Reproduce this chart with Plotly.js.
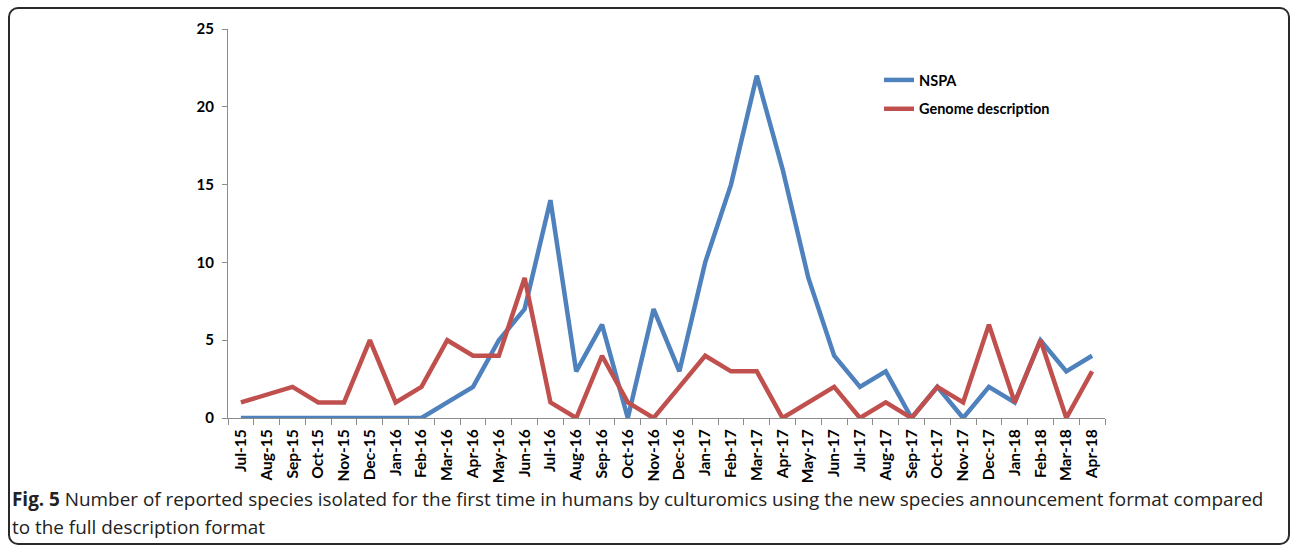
<!DOCTYPE html>
<html>
<head>
<meta charset="utf-8">
<script src="https://cdn.plot.ly/plotly-3.0.1.min.js"></script>
<style>
  html, body { margin:0; padding:0; background:#fff; }
  #wrap { position:relative; width:1290px; height:546px; overflow:hidden; }
  #frame { position:absolute; left:8px; top:7px; width:1278px; height:534px;
           border:2px solid #2a2a2a; border-radius:10px; }
  #chart { position:absolute; left:0; top:0; width:1290px; height:546px; }
</style>
</head>
<body>
<div id="wrap">
  <div id="frame"></div>
  <div id="chart"></div>
</div>
<script>
const months = ["Jul-15","Aug-15","Sep-15","Oct-15","Nov-15","Dec-15","Jan-16","Feb-16","Mar-16","Apr-16","May-16","Jun-16","Jul-16","Aug-16","Sep-16","Oct-16","Nov-16","Dec-16","Jan-17","Feb-17","Mar-17","Apr-17","May-17","Jun-17","Jul-17","Aug-17","Sep-17","Oct-17","Nov-17","Dec-17","Jan-18","Feb-18","Mar-18","Apr-18"];
const nspa = [0,0,0,0,0,0,0,0,1,2,5,7,14,3,6,0,7,3,10,15,22,16,9,4,2,3,0,2,0,2,1,5,3,4];
const genome = [1,null,2,1,1,5,1,2,5,4,4,9,1,0,4,1,0,2,4,3,3,0,1,2,0,1,0,2,1,6,1,5,0,3];
const seriesNames = ["NSPA","Genome description"];
const yTicks = [0,5,10,15,20,25];
const captionBold = "Fig. 5";
const captionLine1 = "Number of reported species isolated for the first time in humans by culturomics using the new species announcement format compared";
const captionLine2 = "to the full description format";

const W = 1290, H = 546;
const M = {l:228, r:185, t:29, b:128};
const pw = W - M.l - M.r, ph = H - M.t - M.b;
const px = x => (x - M.l) / pw;
const py = y => (H - M.b - y) / ph;

const traces = [
  {x: months, y: nspa, name: seriesNames[0], type:'scatter', mode:'lines',
   line:{color:'#4F81BD', width:4.5}, legendgroup:'a', connectgaps:true},
  {x: months, y: genome, name: seriesNames[1], type:'scatter', mode:'lines',
   line:{color:'#C0504D', width:4.5}, legendgroup:'b', connectgaps:true}
];

const layout = {
  width: W, height: H,
  margin: M,
  paper_bgcolor:'rgba(0,0,0,0)', plot_bgcolor:'rgba(0,0,0,0)',
  font:{family:'Lato, "Open Sans", sans-serif', color:'#000'},
  showlegend:true,
  legend:{x: px(879), y: py(64), xanchor:'left', yanchor:'top',
          font:{size:14.5, weight:'bold', family:'Lato, sans-serif', color:'#000'},
          tracegroupgap:7, bgcolor:'rgba(0,0,0,0)'},
  xaxis:{type:'category', range:[-0.5, months.length-0.5],
         tickangle:-90, tickfont:{size:15.5, weight:'bold', family:'Lato, sans-serif'},
         showline:true, linecolor:'#8c8c8c', linewidth:1,
         ticks:'outside', ticklen:6, tickcolor:'#8c8c8c', tickson:'boundaries',
         ticklabelstandoff:4,
         showgrid:false, zeroline:false, fixedrange:true},
  yaxis:{range:[0,25], tickvals:yTicks, ticktext:yTicks.map(String),
         tickfont:{size:15, weight:'bold', family:'Lato, sans-serif'},
         showline:true, linecolor:'#8c8c8c', linewidth:1,
         ticks:'outside', ticklen:5, tickcolor:'#8c8c8c', ticklabelstandoff:5,
         showgrid:false, zeroline:false, fixedrange:true},
  annotations:[
    {xref:'paper', yref:'paper', x:px(10), y:py(499), xanchor:'left', yanchor:'middle',
     showarrow:false, align:'left',
     text:'<b>'+captionBold+'</b> '+captionLine1,
     font:{family:'"Open Sans", sans-serif', size:18.9, color:'#222'}},
    {xref:'paper', yref:'paper', x:px(10), y:py(527), xanchor:'left', yanchor:'middle',
     showarrow:false, align:'left',
     text:captionLine2,
     font:{family:'"Open Sans", sans-serif', size:18.9, color:'#222'}}
  ]
};

Plotly.newPlot('chart', traces, layout, {displayModeBar:false, staticPlot:true});
</script>
</body>
</html>
